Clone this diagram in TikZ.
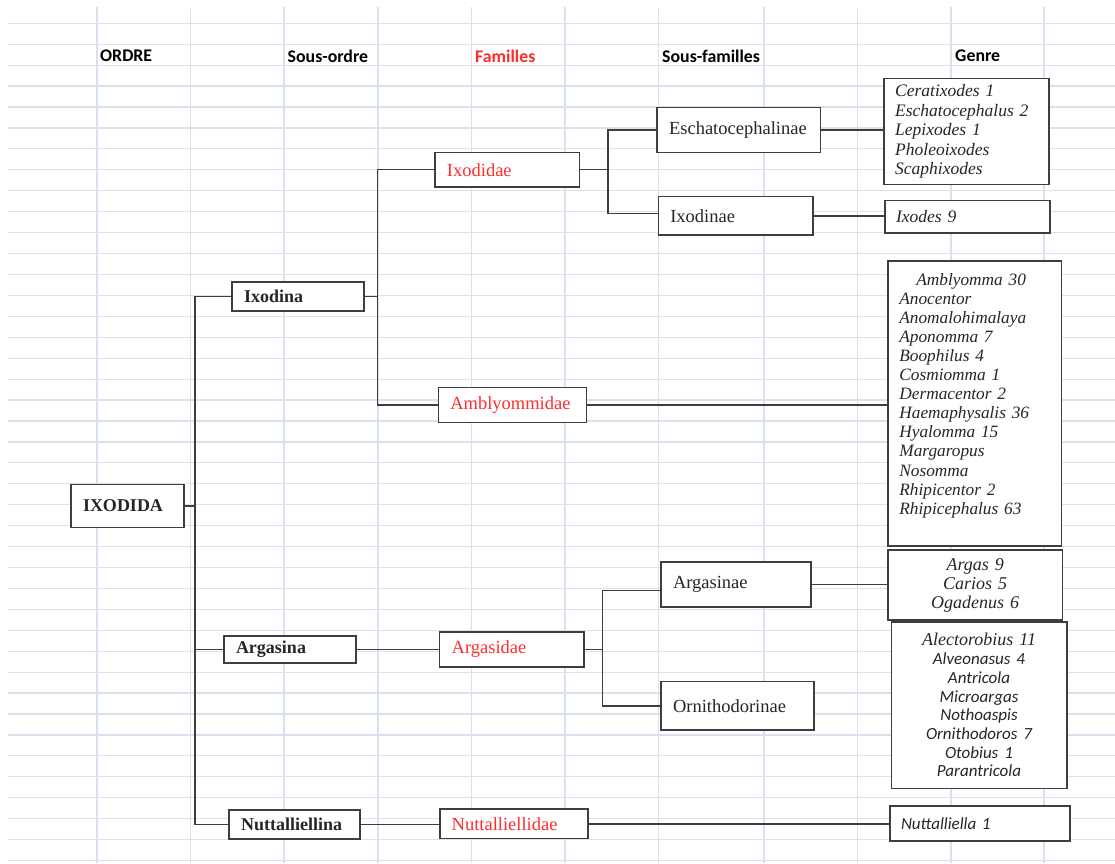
\documentclass[tikz,border=0pt]{standalone}
\usepackage{fontspec}
\setmainfont{Liberation Serif}
\newfontfamily\calibri{Carlito}
\usepackage{xcolor}
\definecolor{gridblue}{RGB}{218,225,238}
\definecolor{famred}{RGB}{255,45,45}
\definecolor{boxgray}{RGB}{62,62,62}
\hyphenpenalty=10000
\exhyphenpenalty=10000
\tikzset{gridline/.style={draw=gridblue,line width=1.2pt},
  head/.style={anchor=west,inner sep=0pt,font=\calibri\bfseries\fontsize{17.8}{20}\selectfont},
  taxon/.style={draw=boxgray,line width=1.6pt,fill=white,inner xsep=12pt,inner ysep=0pt,align=left,text=black!85,font=\fontsize{18.5}{22}\selectfont},
  sub/.style={taxon,font=\bfseries\fontsize{18}{22}\selectfont},
  fam/.style={taxon,text=famred},
  genre/.style={draw=boxgray,line width=1.6pt,fill=white,inner xsep=11pt,inner ysep=0pt,text=black!85,font=\itshape\fontsize{17.5}{19.5}\selectfont},
  link/.style={draw=boxgray,line width=1.4pt}}

\begin{document}
\begin{tikzpicture}[x=1pt,y=-1pt]
    \useasboundingbox (0,0) rectangle (1115,863);
    \fill[white] (0,0) rectangle (1115,863);
    \foreach \k in {0,...,40}
        \draw[gridline] (8,23.3+20.93*\k) -- (1115,23.3+20.93*\k);
    \foreach \gx in {97,190.7,284,378,471.5,565,658.3,764,857.5,951,1044}
        \draw[gridline] (\gx,7) -- (\gx,863);

    \node[head] (hordre) at (100,56) {ORDRE};
    \node[head] (hsousordre) at (287.5,56) {Sous-ordre};
    \node[head,text=famred] (hfamilles) at (475,56) {Familles};
    \node[head] (hsousfamilles) at (662,56) {Sous-familles};
    \node[head] (hgenre) at (955,56) {Genre};

    \node[sub,text width=89pt,minimum height=43pt] (ixodida) at (127.5,506) {IXODIDA};
    \node[sub,text width=108pt,minimum height=29pt] (ixodina) at (298,296.5) {Ixodina};
    \node[sub,text width=108pt,minimum height=27pt] (argasina) at (290,649.5) {Argasina};
    \node[sub,text width=107pt,minimum height=29pt] (nuttalliellina) at (294.7,824.3) {Nuttalliellina};

    \node[fam,text width=120.7pt,minimum height=34.7pt] (ixodidae) at (507.3,169.7) {Ixodidae};
    \node[fam,text width=124pt,minimum height=35pt] (amblyommidae) at (512.3,404.8) {Amblyommidae};
    \node[fam,text width=120.3pt,minimum height=35pt] (argasidae) at (511.8,649.5) {Argasidae};
    \node[fam,text width=124pt,minimum height=29.7pt] (nuttalliellidae) at (513.7,823.8) {Nuttalliellidae};

    \node[taxon,text width=139.3pt,minimum height=45pt] (eschatocephalinae) at (738.7,129.8) {Eschatocephalinae};
    \node[taxon,text width=130.4pt,minimum height=38.3pt] (ixodinae) at (735.5,215.8) {Ixodinae};
    \node[taxon,text width=126pt,minimum height=45pt] (argasinae) at (736,584.5) {Argasinae};
    \node[taxon,text width=129pt,minimum height=48.3pt] (ornithodorinae) at (737.5,705.8) {Ornithodorinae};

    \node[genre,align=left,text width=142.6pt,minimum height=106pt] (gceratixodes) at (966.5,131.3)
        {Ceratixodes 1\\Eschatocephalus 2\\Lepixodes 1\\Pholeoixodes\\Scaphixodes};
    \node[genre,align=left,text width=143pt,minimum height=32.4pt] (gixodes) at (967.5,216.5) {Ixodes 9};
    \node[genre,align=left,inner xsep=11.3pt,inner ysep=12pt,text width=150.7pt,text height=12pt,text depth=249pt,
        font=\itshape\fontsize{17.3}{19.1}\selectfont] (gamblyomma) at (974.7,403.5)
        {\hspace*{17pt}Amblyomma 30\\Anocentor\\Anomalohimalaya\\Aponomma 7\\Boophilus 4\\Cosmiomma 1\\Dermacentor 2\\
         Haemaphysalis 36\\Hyalomma 15\\Margaropus\\Nosomma\\Rhipicentor 2\\Rhipicephalus 63};
    \node[genre,align=center,text width=152.3pt,minimum height=70pt,font=\itshape\fontsize{18}{19}\selectfont] (gargas) at (975.2,585)
        {Argas 9\\Carios 5\\Ogadenus 6};
    \node[genre,align=center,text width=153.4pt,minimum height=166.3pt,font=\itshape\fontsize{18}{18.7}\selectfont] (galectorobius) at (979,705.2)
        {Alectorobius 11\\\calibri\fontsize{17}{18.7}\selectfont Alveonasus 4\\Antricola\\Microargas\\Nothoaspis\\Ornithodoros 7\\Otobius 1\\Parantricola};
    \node[genre,align=left,text width=158pt,minimum height=35pt,font=\calibri\itshape\fontsize{17}{19}\selectfont] (gnuttalliella) at (980,823.2) {Nuttalliella 1};

    \draw[link] (ixodida.east) -- ++(10,0) |- (ixodina.west);
    \draw[link] (ixodida.east) -- ++(10,0) |- (argasina.west);
    \draw[link] (ixodida.east) -- ++(10,0) |- (nuttalliellina.west);
    \draw[link] (ixodina.east) -- ++(12.7,0) |- (ixodidae.west);
    \draw[link] (ixodina.east) -- ++(12.7,0) |- (amblyommidae.west);
    \draw[link] (ixodidae.east) -- ++(27.6,0) |- (eschatocephalinae.west);
    \draw[link] (ixodidae.east) -- ++(27.6,0) |- ([yshift=2.5pt]ixodinae.west);
    \draw[link] (argasina.east) -- (argasina.east -| argasidae.west);
    \draw[link] (argasidae.east) -- ++(17.5,0) |- ([yshift=-6pt]argasinae.west);
    \draw[link] (argasidae.east) -- ++(17.5,0) |- (ornithodorinae.west);
    \draw[link] (nuttalliellina.east) -- (nuttalliellina.east -| nuttalliellidae.west);
    \draw[link] (eschatocephalinae.east) -- (eschatocephalinae.east -| gceratixodes.west);
    \draw[link] (ixodinae.east) -- (ixodinae.east -| gixodes.west);
    \draw[link] (amblyommidae.east) -- (amblyommidae.east -| gamblyomma.west);
    \draw[link] (argasinae.east) -- (argasinae.east -| gargas.west);
    \draw[link] (nuttalliellidae.east) -- (nuttalliellidae.east -| gnuttalliella.west);
\end{tikzpicture}
\end{document}
